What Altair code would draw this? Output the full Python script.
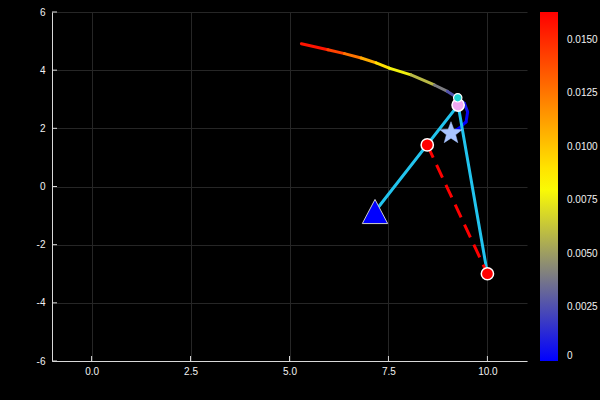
import altair as alt
import pandas as pd

# ---- data ----
curve_x = [5.30, 5.97, 6.39, 6.81, 7.19, 7.52, 8.07, 8.66, 8.99, 9.24, 9.42, 9.50, 9.46, 9.29, 9.16]
curve_y = [4.91, 4.70, 4.57, 4.42, 4.25, 4.07, 3.84, 3.49, 3.27, 3.05, 2.86, 2.56, 2.22, 2.01, 1.91]
curve_z = [0.0163, 0.0150, 0.0134, 0.0118, 0.0099, 0.0084, 0.0070, 0.0048, 0.0032, 0.0020,
           0.0010, 0.0004, 0.0001, 0.0, 0.0]

arm_x = [7.16, 9.26, 10.0]
arm_y = [-0.86, 2.80, -3.0]

dash_x = [8.48, 10.0]
dash_y = [1.43, -3.0]

red_x = [8.48, 10.0]
red_y = [1.43, -3.0]

tri_x, tri_y = [7.16], [-0.86]
star_x, star_y = [9.08], [1.83]
pink_x, pink_y = [9.26], [2.80]
cyan_x, cyan_y = [9.25], [3.05]

x_ticks = [0, 2.5, 5, 7.5, 10]
y_ticks = [-6, -4, -2, 0, 2, 4, 6]
cbar_ticks = [0, 0.0025, 0.005, 0.0075, 0.01, 0.0125, 0.015]
z_max = 0.0163

# ---- build tables ----
seg_df = pd.DataFrame({
    "x": curve_x[:-1], "y": curve_y[:-1],
    "x2": curve_x[1:], "y2": curve_y[1:],
    "z": [(a + b) / 2 for a, b in zip(curve_z[:-1], curve_z[1:])],
})
arm_df = pd.DataFrame({"x": arm_x, "y": arm_y, "o": list(range(len(arm_x)))})
dash_df = pd.DataFrame({"x": dash_x, "y": dash_y, "o": [0, 1]})
red_df = pd.DataFrame({"x": red_x, "y": red_y})
tri_df = pd.DataFrame({"x": tri_x, "y": tri_y})
star_df = pd.DataFrame({"x": star_x, "y": star_y})
pink_df = pd.DataFrame({"x": pink_x, "y": pink_y})
cyan_df = pd.DataFrame({"x": cyan_x, "y": cyan_y})
xt_df = pd.DataFrame({"v": x_ticks})
yt_df = pd.DataFrame({"v": y_ticks})

W, H = 475, 349
AX = "#d8d8d8"
LBL = "#f2f2f2"
GRID = "#262626"
FONT = "Liberation Sans"

xs = alt.Scale(domain=[-1, 11], nice=False, zero=False)
ys = alt.Scale(domain=[-6, 6], nice=False, zero=False)

x_axis = alt.Axis(values=x_ticks, format=".1f", title=None, tickSize=0, labelPadding=5,
                  domainColor=AX, domainWidth=1, grid=True, gridColor=GRID, gridWidth=1,
                  labelColor=LBL, labelFontSize=10, labelFont=FONT)
y_axis = alt.Axis(values=y_ticks, labelExpr="'' + datum.value", title=None, tickSize=0, labelPadding=7,
                  domainColor=AX, domainWidth=1, grid=True, gridColor=GRID, gridWidth=1,
                  labelColor=LBL, labelFontSize=10, labelFont=FONT)


def X(f="x"):
    return alt.X(f"{f}:Q", scale=xs, axis=x_axis)


def Y(f="y"):
    return alt.Y(f"{f}:Q", scale=ys, axis=y_axis)


curve = alt.Chart(seg_df).mark_rule(strokeWidth=3, strokeCap="round").encode(
    x=X(), y=Y(), x2="x2:Q", y2="y2:Q",
    color=alt.Color(
        "z:Q",
        scale=alt.Scale(domain=[0, z_max], range=["#0000ff", "#ffff00", "#ff0000"], interpolate="rgb"),
        legend=alt.Legend(
            orient="none", legendX=488, legendY=0, direction="vertical",
            gradientLength=349, gradientThickness=18, gradientStrokeWidth=0,
            values=cbar_ticks, title=None,
            labelExpr="datum.value == 0 ? '0' : format(datum.value, '.4f')",
            labelBaseline="middle",
            labelColor=LBL, labelFontSize=10, labelFont=FONT, labelOffset=9,
        ),
    ),
)

arm = alt.Chart(arm_df).mark_line(color="#22c4ee", strokeWidth=3).encode(
    x=X(), y=Y(), order="o:Q")

dash = alt.Chart(dash_df).mark_line(color="#ff0000", strokeWidth=3, strokeDash=[14, 8]).encode(
    x=X(), y=Y(), order="o:Q")

xticks = alt.Chart(xt_df).mark_rule(color=AX, strokeWidth=1).encode(
    x=alt.X("v:Q", scale=xs, axis=x_axis), y=alt.value(H), y2=alt.value(H - 5))
yticks = alt.Chart(yt_df).mark_rule(color=AX, strokeWidth=1).encode(
    y=alt.Y("v:Q", scale=ys, axis=y_axis), x=alt.value(0), x2=alt.value(5))

red_pts = alt.Chart(red_df).mark_point(shape="circle", filled=True, size=150, fill="#ff0000",
                                       stroke="white", strokeWidth=1.5, opacity=1).encode(x=X(), y=Y())

tri_path = "M0,-0.95L1,0.95L-1,0.95Z"
tri_pt = alt.Chart(tri_df).mark_point(shape=tri_path, filled=True, size=645, fill="#0000ff",
                                      stroke="#cccccc", strokeWidth=1, opacity=1).encode(x=X(), y=Y())

star_path = ("M0,-1L0.247,-0.34L0.951,-0.309L0.399,0.13L0.588,0.809L0,0.42"
             "L-0.588,0.809L-0.399,0.13L-0.951,-0.309L-0.247,-0.34Z")
star_pt = alt.Chart(star_df).mark_point(shape=star_path, filled=True, size=535, fill="#a8c4ff",
                                        stroke="#a8c4ff", strokeWidth=0.5, opacity=1).encode(x=X(), y=Y())

pink_pt = alt.Chart(pink_df).mark_point(shape="circle", filled=True, size=150, fill="#f0a8f0",
                                        stroke="white", strokeWidth=1.5, opacity=1).encode(x=X(), y=Y())
cyan_pt = alt.Chart(cyan_df).mark_point(shape="circle", filled=True, size=70, fill="#1fd2d2",
                                        stroke="white", strokeWidth=1.2, opacity=1).encode(x=X(), y=Y())

chart = alt.layer(
    curve, arm, dash, xticks, yticks, red_pts, tri_pt, star_pt, pink_pt, cyan_pt
).properties(
    width=W, height=H,
    autosize=alt.AutoSizeParams(type="none"),
    padding={"left": 52, "top": 12, "right": 73, "bottom": 39},
    background="black",
).configure_view(stroke=None)

chart.save("out.html", embed_options={"renderer": "svg", "actions": False})
